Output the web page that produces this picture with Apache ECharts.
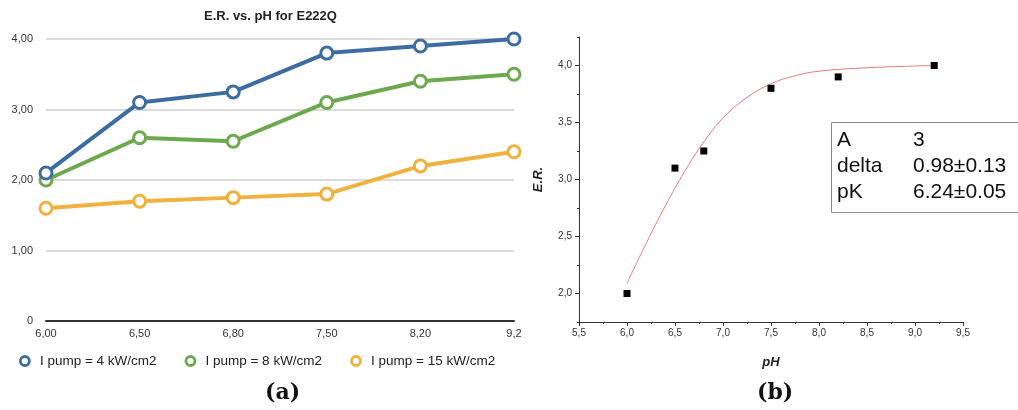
<!DOCTYPE html>
<html>
<head>
<meta charset="utf-8">
<style>
  html, body { margin: 0; padding: 0; background: #fff; }
  #chart { width: 1018px; height: 410px; }
</style>
<script src="https://cdn.jsdelivr.net/npm/echarts@6/dist/echarts.min.js"></script>
</head>
<body>
<div id="chart"></div>
<script>
// (a) E.R. vs pH for three pump intensities
const phCategories = ['6,00', '6,50', '6,80', '7,50', '8,20', '9,2'];
const pump4 = [2.1, 3.1, 3.25, 3.8, 3.9, 4.0];
const pump8 = [2.0, 2.6, 2.55, 3.1, 3.4, 3.5];
const pump15 = [1.6, 1.7, 1.75, 1.8, 2.2, 2.4];
const pumpNames = ['I pump = 4 kW/cm2', 'I pump = 8 kW/cm2', 'I pump = 15 kW/cm2'];
const pumpColors = ['#3c6ca2', '#6ea84e', '#f1b13f'];

// (b) measured points and fitted titration curve
const phMeasured = [6.0, 6.5, 6.8, 7.5, 8.2, 9.2];
const erMeasured = [2.0, 3.1, 3.25, 3.8, 3.9, 4.0];
const fitPH = [6.0, 6.2, 6.4, 6.6, 6.8, 7.0, 7.25, 7.5, 7.75, 8.0, 8.5, 9.2];
const fitER = [2.09, 2.44, 2.77, 3.07, 3.33, 3.54, 3.72, 3.84, 3.91, 3.95, 3.98, 4.0];
const fitParamNames = ['A', 'delta', 'pK'];
const fitParamValues = ['3', '0.98±0.13', '6.24±0.05'];
const erMajorTicks = [2.0, 2.5, 3.0, 3.5, 4.0];
const erMinorTicks = [1.75, 2.25, 2.75, 3.25, 3.75, 4.25];

const commaFixed = (v, d) => v.toFixed(d).replace('.', ',');
const sans = '"Liberation Sans", Arial, sans-serif';

const chart = echarts.init(document.getElementById('chart'), null, { renderer: 'canvas' });

const pumpSeries = [pump4, pump8, pump15].map((data, i) => ({
  name: pumpNames[i],
  type: 'line',
  xAxisIndex: 0,
  yAxisIndex: 0,
  data: data,
  symbol: 'circle',
  symbolSize: 12,
  lineStyle: { color: pumpColors[i], width: 4 },
  itemStyle: { color: '#ffffff', borderColor: pumpColors[i], borderWidth: 3 },
  emphasis: { disabled: true },
  z: 3 + (2 - i)
}));

// parameter table of the fit
const boxTexts = [];
fitParamNames.forEach((n, i) => {
  boxTexts.push({
    type: 'text', left: 837, top: 130 + i * 26, z: 11,
    style: { text: n, font: '21px ' + sans, fill: '#111' }
  });
  boxTexts.push({
    type: 'text', left: 913, top: 130 + i * 26, z: 11,
    style: { text: fitParamValues[i], font: '21px ' + sans, fill: '#111' }
  });
});

chart.setOption({
  animation: false,
  grid: [
    { left: 46, right: 504, top: 39, bottom: 89 },
    { left: 579, right: 55, top: 37, bottom: 88 }
  ],
  xAxis: [
    {
      gridIndex: 0, type: 'category', data: phCategories, boundaryGap: false,
      axisLine: { lineStyle: { color: '#333', width: 2 } },
      axisTick: { show: false },
      axisLabel: { color: '#333', fontSize: 11, margin: 7, fontFamily: sans },
      splitLine: { show: false }
    },
    {
      gridIndex: 1, type: 'value', min: 5.5, max: 9.5, interval: 0.5,
      axisLine: { onZero: false, lineStyle: { color: '#333', width: 1 } },
      axisTick: { show: true, inside: false, length: 4, lineStyle: { color: '#333' } },
      minorTick: { show: true, splitNumber: 2, length: 2, lineStyle: { color: '#333' } },
      axisLabel: { color: '#333', fontSize: 10, margin: 6, formatter: v => commaFixed(v, 1), fontFamily: sans },
      splitLine: { show: false },
      name: 'pH', nameLocation: 'middle', nameGap: 34,
      nameTextStyle: { fontStyle: 'italic', fontWeight: 'bold', fontSize: 13, color: '#222', fontFamily: sans }
    }
  ],
  yAxis: [
    {
      gridIndex: 0, type: 'value', min: 0, max: 4, interval: 1,
      axisLine: { show: false },
      axisTick: { show: false },
      axisLabel: { color: '#333', fontSize: 11, margin: 13,
        formatter: v => (v === 0 ? '0' : commaFixed(v, 2)), fontFamily: sans },
      splitLine: { lineStyle: { color: '#cfcfcf', width: 1.5 } }
    },
    {
      gridIndex: 1, type: 'value', min: 1.75, max: 4.25, position: 'left',
      axisLine: { show: true, onZero: false, lineStyle: { color: '#333', width: 1 } },
      axisTick: { show: true, inside: false, length: 4, customValues: erMajorTicks, lineStyle: { color: '#333' } },
      axisLabel: { color: '#333', fontSize: 10, margin: 7, customValues: erMajorTicks,
        formatter: v => commaFixed(v, 1), fontFamily: sans },
      splitLine: { show: false },
      name: 'E.R.', nameLocation: 'middle', nameGap: 34, nameRotate: 90,
      nameTextStyle: { fontStyle: 'italic', fontWeight: 'bold', fontSize: 13, color: '#222', fontFamily: sans }
    },
    {
      gridIndex: 1, type: 'value', min: 1.75, max: 4.25, position: 'left', offset: 0,
      axisLine: { show: false, onZero: false },
      axisTick: { show: true, inside: false, length: 2, customValues: erMinorTicks, lineStyle: { color: '#333' } },
      axisLabel: { show: false },
      splitLine: { show: false }
    }
  ],
  legend: {
    left: 14, top: 349, itemWidth: 20, itemHeight: 9, itemGap: 28,
    icon: 'circle',
    textStyle: { fontSize: 13.5, color: '#222', fontFamily: sans },
    data: pumpNames.map((n, i) => ({
      name: n,
      itemStyle: { color: '#ffffff', borderColor: pumpColors[i], borderWidth: 2.8 }
    })),
    selectedMode: false
  },
  graphic: [
    {
      type: 'text', left: 204, top: 10,
      style: { text: 'E.R. vs. pH for E222Q', font: 'bold 13px ' + sans, fill: '#222' }
    },
    {
      type: 'text', left: 265, top: 382,
      style: { text: '(a)', font: 'bold 22px "DejaVu Serif", serif', fill: '#111' }
    },
    {
      type: 'text', left: 757, top: 382,
      style: { text: '(b)', font: 'bold 22px "DejaVu Serif", serif', fill: '#111' }
    },
    {
      type: 'rect', left: 831, top: 122, z: 10,
      shape: { width: 200, height: 90 },
      style: { fill: '#ffffff', stroke: '#8a8a8a', lineWidth: 1 }
    },
    ...boxTexts
  ],
  series: [
    ...pumpSeries,
    {
      name: 'fit', type: 'line', xAxisIndex: 1, yAxisIndex: 1,
      data: fitPH.map((x, i) => [x, fitER[i]]),
      smooth: 0.4, showSymbol: false,
      lineStyle: { color: '#e8787a', width: 1 },
      emphasis: { disabled: true }, z: 2
    },
    {
      name: 'measured', type: 'scatter', xAxisIndex: 1, yAxisIndex: 1,
      data: phMeasured.map((x, i) => [x, erMeasured[i]]),
      symbol: 'rect', symbolSize: 7,
      itemStyle: { color: '#000', opacity: 1 },
      emphasis: { disabled: true }, z: 4
    }
  ]
});
</script>
</body>
</html>
